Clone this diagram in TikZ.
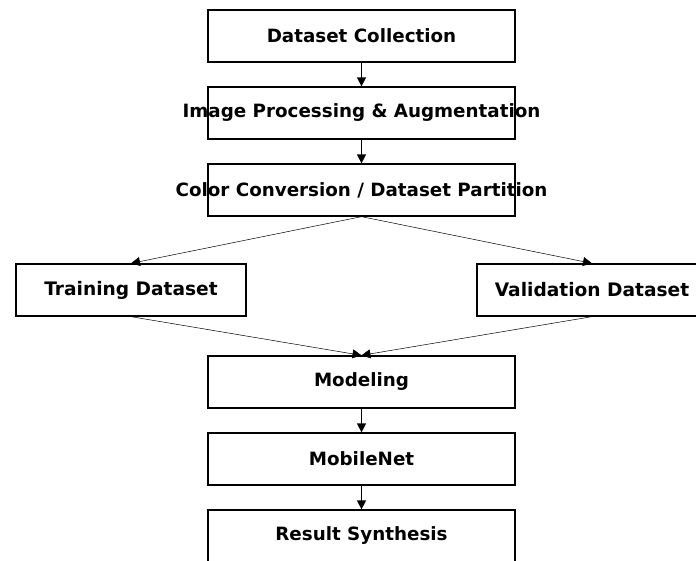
\documentclass[tikz,border=0pt]{standalone}
\usepackage{fontspec}
\setmainfont{DejaVu Sans}
\usetikzlibrary{arrows.meta}

\tikzset{
  stage/.style={draw, line width=1.3pt, minimum width=307pt, minimum height=52pt,
    font=\bfseries\fontsize{18.3}{21}\selectfont},
  part/.style={draw, line width=1.3pt, minimum width=230pt, minimum height=52pt,
    font=\bfseries\fontsize{18.6}{21}\selectfont},
  flow/.style={-{Triangle[width=9pt,length=9pt]}, line width=1.5pt},
  thinflow/.style={-{Triangle[width=9pt,length=9pt]}, line width=0.5pt}
}

\begin{document}
\begin{tikzpicture}[x=1pt, y=-1pt]
      \useasboundingbox (0,0) rectangle (696,560);

      % Main pipeline
      \node[stage] (collect) at (361.5,36) {Dataset Collection};
      \node[stage] (process) at (361.5,113) {\makebox[0pt]{Image Processing \& Augmentation}};
      \node[stage] (convert) at (361.5,190) {\makebox[0pt]{Color Conversion / Dataset Partition}};

      % Split into the two datasets
      \node[part] (train) at (131,290) {Training Dataset};
      \node[part] (valid) at (592,290) {Validation Dataset};

      % Model and results
      \node[stage] (model) at (361.5,382) {Modeling};
      \node[stage] (mobnet) at (361.5,459) {MobileNet};
      \node[stage] (result) at (361.5,536) {Result Synthesis};

      % Connectors
      \draw[flow] (collect) -- (process);
      \draw[flow] (process) -- (convert);
      \draw[thinflow] (convert.south) -- (train.north);
      \draw[thinflow] (convert.south) -- (valid.north);
      \draw[thinflow] (train.south) -- (model.north);
      \draw[thinflow] (valid.south) -- (model.north);
      \draw[flow] (model) -- (mobnet);
      \draw[flow] (mobnet) -- (result);
    \end{tikzpicture}
\end{document}
